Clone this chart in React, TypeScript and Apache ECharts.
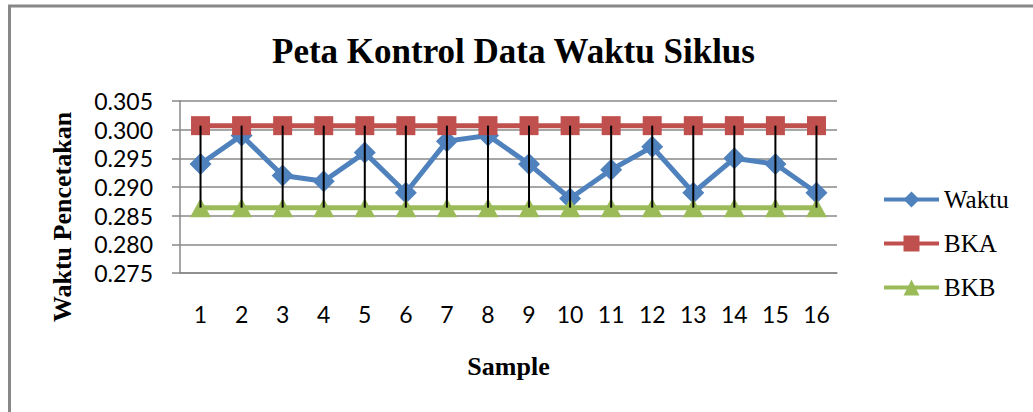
import React, { useEffect, useRef } from "react";
import * as echarts from "echarts";

const titleText = "Peta Kontrol Data Waktu Siklus";
const xAxisTitle = "Sample";
const yAxisTitle = "Waktu Pencetakan";
const categories = ["1", "2", "3", "4", "5", "6", "7", "8", "9", "10", "11", "12", "13", "14", "15", "16"];
const waktu = [0.294, 0.299, 0.292, 0.291, 0.296, 0.289, 0.298, 0.299, 0.294, 0.288, 0.293, 0.297, 0.289, 0.295, 0.294, 0.289];
const bka = [0.3007, 0.3007, 0.3007, 0.3007, 0.3007, 0.3007, 0.3007, 0.3007, 0.3007, 0.3007, 0.3007, 0.3007, 0.3007, 0.3007, 0.3007, 0.3007];
const bkb = [0.2864, 0.2864, 0.2864, 0.2864, 0.2864, 0.2864, 0.2864, 0.2864, 0.2864, 0.2864, 0.2864, 0.2864, 0.2864, 0.2864, 0.2864, 0.2864];
const seriesNames = ["Waktu", "BKA", "BKB"];
const yMin = 0.275;
const yMax = 0.305;
const yInterval = 0.005;

const SERIF = "'Liberation Serif', 'Times New Roman', serif";
const SANS = "Lato, 'Open Sans', sans-serif";
const GRAY = "#888888";

export default function App() {
  const ref = useRef<HTMLDivElement>(null);
  useEffect(() => {
    if (!ref.current) return;
    const chart = echarts.init(ref.current, undefined, { renderer: "svg" });
    const hiLow = categories.map((_, i) => [i, Math.max(waktu[i], bka[i], bkb[i]), Math.min(waktu[i], bka[i], bkb[i])]);
    chart.setOption({
      animation: false,
      backgroundColor: "#ffffff",
      title: {
        text: titleText,
        left: 267,
        top: 29,
        textStyle: { fontFamily: SERIF, fontWeight: "bold", fontSize: 35, color: "#000" },
      },
      graphic: [
        {
          type: "rect",
          shape: { x: 9.5, y: 6, width: 1100, height: 500 },
          style: { fill: "none", stroke: GRAY, lineWidth: 3 },
          silent: true,
        },
        {
          type: "text",
          x: 62,
          y: 217,
          rotation: Math.PI / 2,
          silent: true,
          style: {
            text: yAxisTitle,
            font: "bold 26px " + SERIF,
            fill: "#000",
            align: "center",
            verticalAlign: "middle",
          },
        },
      ],
      legend: {
        orient: "vertical",
        left: 877,
        top: 182,
        itemWidth: 55,
        itemHeight: 20,
        itemGap: 19,
        data: seriesNames,
        lineStyle: { width: 4 },
        textStyle: { fontFamily: SERIF, fontSize: 25, color: "#000" },
      },
      grid: { left: 180, right: 196, top: 101, bottom: 139, containLabel: false },
      xAxis: {
        type: "category",
        data: categories,
        boundaryGap: true,
        name: xAxisTitle,
        nameLocation: "middle",
        nameGap: 80,
        nameTextStyle: { fontFamily: SERIF, fontWeight: "bold", fontSize: 26, color: "#000" },
        axisLine: { show: true, lineStyle: { color: GRAY, width: 1.5 } },
        axisTick: { show: false },
        axisLabel: { fontFamily: SANS, fontSize: 23, color: "#000", margin: 29 },
        splitLine: { show: false },
      },
      yAxis: {
        type: "value",
        min: yMin,
        max: yMax,
        interval: yInterval,
        axisLine: { show: true, lineStyle: { color: GRAY, width: 1.5 } },
        axisTick: { show: true, inside: false, length: 8, lineStyle: { color: GRAY, width: 1.5 } },
        axisLabel: {
          fontFamily: SANS,
          fontSize: 23,
          color: "#000",
          margin: 27,
          formatter: (v: number) => v.toFixed(3),
        },
        splitLine: { show: true, lineStyle: { color: GRAY, width: 1.5 } },
      },
      series: [
        {
          name: "Waktu",
          type: "line",
          data: waktu,
          symbol: "diamond",
          symbolSize: 22,
          lineStyle: { color: "#4F81BD", width: 5 },
          itemStyle: { color: "#4F81BD" },
          z: 2,
        },
        {
          name: "BKA",
          type: "line",
          data: bka,
          symbol: "rect",
          symbolSize: 19,
          lineStyle: { color: "#C0504D", width: 5 },
          itemStyle: { color: "#C0504D" },
          z: 3,
        },
        {
          name: "BKB",
          type: "line",
          data: bkb,
          symbol: "triangle",
          symbolSize: [21, 19],
          lineStyle: { color: "#9BBB59", width: 5 },
          itemStyle: { color: "#9BBB59" },
          z: 4,
        },
        {
          name: "hilow",
          type: "custom",
          data: hiLow,
          z: 10,
          silent: true,
          renderItem: (params: any, api: any) => {
            const top = api.coord([api.value(0), api.value(1)]);
            const bot = api.coord([api.value(0), api.value(2)]);
            return {
              type: "line",
              shape: { x1: top[0], y1: top[1], x2: bot[0], y2: bot[1] },
              style: { stroke: "#000", lineWidth: 2 },
            };
          },
        },
      ],
    });
    return () => chart.dispose();
  }, []);
  return (
    <div
      ref={ref}
      style={{ position: "fixed", left: 0, top: 0, width: 1033, height: 412 }}
    />
  );
}
